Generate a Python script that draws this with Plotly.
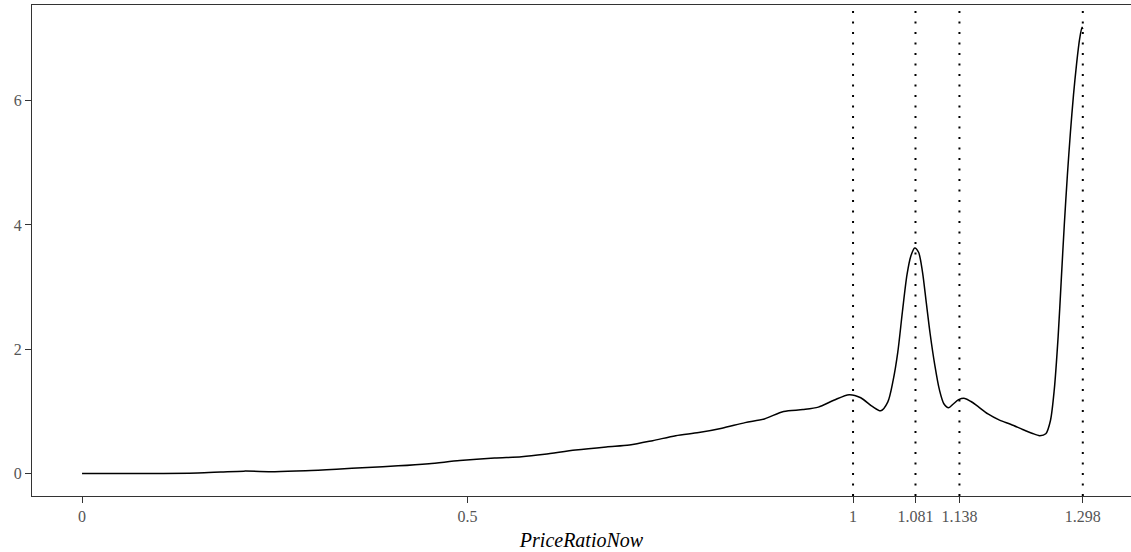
import plotly.graph_objects as go

price_ratio = [0, 0.05, 0.1, 0.15, 0.18, 0.21, 0.25, 0.29, 0.33, 0.37, 0.41, 0.45,
               0.49, 0.535, 0.57, 0.60, 0.64, 0.68, 0.71, 0.74, 0.77, 0.80, 0.83,
               0.86, 0.885, 0.91, 0.935, 0.955, 0.975, 0.995, 1.01, 1.025, 1.036,
               1.045, 1.052, 1.058, 1.064, 1.070, 1.075, 1.080, 1.085, 1.090,
               1.095, 1.100, 1.106, 1.112, 1.118, 1.124, 1.130, 1.137, 1.145,
               1.153, 1.162, 1.175, 1.19, 1.205, 1.22, 1.232, 1.242, 1.250,
               1.256, 1.261, 1.266, 1.270, 1.274, 1.278, 1.282, 1.286, 1.290,
               1.294, 1.297, 1.298]
density = [0.0, 0.0, 0.003, 0.01, 0.025, 0.04, 0.032, 0.045, 0.07, 0.10, 0.125,
           0.16, 0.21, 0.25, 0.27, 0.31, 0.38, 0.43, 0.46, 0.53, 0.61, 0.66,
           0.73, 0.82, 0.88, 1.0, 1.03, 1.07, 1.18, 1.27, 1.22, 1.08, 1.01,
           1.15, 1.50, 1.95, 2.60, 3.20, 3.50, 3.63, 3.56, 3.25, 2.75, 2.25,
           1.75, 1.35, 1.12, 1.06, 1.12, 1.19, 1.21, 1.16, 1.08, 0.96, 0.86,
           0.79, 0.71, 0.65, 0.61, 0.64, 0.85, 1.35, 2.2, 3.1, 4.0, 4.8, 5.5,
           6.1, 6.6, 7.0, 7.18, 7.15]

# Reference values marked with dotted vertical lines
marks = [1, 1.081, 1.138, 1.298]
x_ticks = [0, 0.5, 1, 1.081, 1.138, 1.298]
x_tick_text = ["0", "0.5", "1", "1.081", "1.138", "1.298"]
y_ticks = [0, 2, 4, 6]

FONT = "Liberation Serif"

fig = go.Figure()
fig.add_trace(go.Scatter(
    x=price_ratio, y=density, mode="lines",
    line=dict(color="black", width=1.5, shape="spline", smoothing=0.8),
    hoverinfo="skip", showlegend=False,
))

for m in marks:
    fig.add_shape(type="line", xref="x", yref="paper", x0=m, x1=m, y0=0, y1=1,
                  line=dict(color="black", width=2, dash="2px,8.5px"), layer="above")

x_min = -0.0649
x_max = x_min + 1099 / 771
y_min = -0.36
y_max = y_min + 491 / 62.17

fig.update_layout(
    width=1131, height=552,
    margin=dict(l=32, r=0, t=5, b=56),
    plot_bgcolor="white", paper_bgcolor="white",
    font=dict(family=FONT, size=16, color="#555555"),
    xaxis=dict(
        range=[x_min, x_max], tickvals=x_ticks, ticktext=x_tick_text,
        showgrid=False, zeroline=False, showline=True, mirror=True,
        linecolor="#333333", linewidth=1.2, ticks="outside", ticklen=6,
        tickcolor="#333333", tickwidth=1.2,
        title=dict(text="<i>PriceRatioNow</i>", font=dict(family=FONT, size=20, color="black"),
                   standoff=8),
    ),
    yaxis=dict(
        range=[y_min, y_max], tickvals=y_ticks,
        showgrid=False, zeroline=False, showline=True, mirror=False,
        linecolor="#333333", linewidth=1.2, ticks="outside", ticklen=6,
        tickcolor="#333333", tickwidth=1.2,
    ),
)

fig.write_html("out.html")
